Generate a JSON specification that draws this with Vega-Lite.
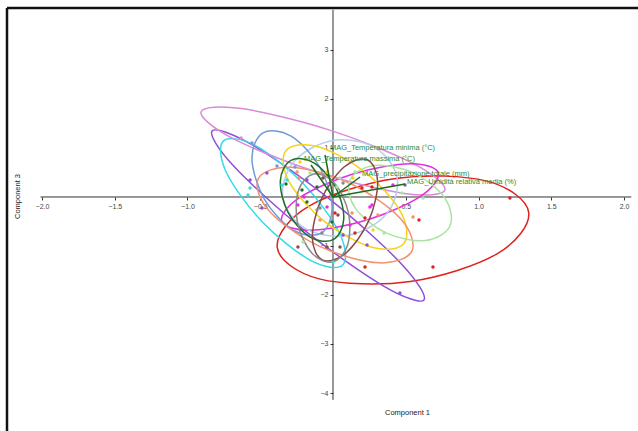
{
  "$schema": "https://vega.github.io/schema/vega-lite/v6.json",
  "width": 631,
  "height": 423,
  "autosize": "none",
  "padding": {"left": 7, "top": 8, "right": 0, "bottom": 0},
  "background": "white",
  "config": {"view": {"stroke": null}, "font": "Liberation Sans"},
  "encoding": {
    "x": {
      "field": "x", "type": "quantitative",
      "scale": {"domain": [-2.2405, 2.0962], "nice": false, "zero": false},
      "axis": {
        "orient": "bottom", "offset": -234, "values": [-2, -1.5, -1, -0.5, 0.5, 1, 1.5, 2],
        "format": ".1f", "domain": false, "grid": false, "tickSize": 3, "tickColor": "#333",
        "labelFontSize": 7, "labelColor": "#444", "labelPadding": 2, "labelOverlap": false, "labelBound": false,
        "title": "Component 1", "titleFontSize": 7.5, "titleFontWeight": "normal", "titleColor": "#222",
        "titleX": 400, "titleY": 215, "titleAlign": "center", "titleBaseline": "middle"
      }
    },
    "y": {
      "field": "y", "type": "quantitative",
      "scale": {"domain": [-4.7755, 3.8571], "nice": false, "zero": false},
      "axis": {
        "orient": "left", "offset": -326, "values": [3, 2, 1, -1, -2, -3, -4],
        "format": "d", "domain": false, "grid": false, "tickSize": 3, "tickColor": "#333",
        "labelFontSize": 7, "labelColor": "#444", "labelPadding": 2, "labelOverlap": false, "labelBound": false,
        "title": "Component 3", "titleFontSize": 7.5, "titleFontWeight": "normal", "titleColor": "#222",
        "titleX": -316, "titleY": 188, "titleAngle": -90, "titleAlign": "center", "titleBaseline": "middle"
      }
    }
  },
  "layer": [
    {
      "data": {"values": [
        {"x": -2.2405, "y": -4.7755, "x2": -2.2405, "y2": 3.8571},
        {"x": -2.2405, "y": 3.8571, "x2": 2.0962, "y2": 3.8571}
      ]},
      "mark": {"type": "rule", "color": "#111", "strokeWidth": 2.5},
      "encoding": {"x2": {"field": "x2"}, "y2": {"field": "y2"}}
    },
    {
      "data": {"values": [
        {"x": -2.01, "y": 0, "x2": 2.05, "y2": 0},
        {"x": 0, "y": 3.82, "x2": 0, "y2": -4.14}
      ]},
      "mark": {"type": "rule", "color": "#333", "strokeWidth": 1},
      "encoding": {"x2": {"field": "x2"}, "y2": {"field": "y2"}}
    },
    {
      "data": {"values": [
        {"g":"red","i":0,"x":1.345,"y":-0.312},{"g":"red","i":1,"x":1.127,"y":-1.161},{"g":"red","i":2,"x":0.531,"y":-1.724},{"g":"red","i":3,"x":-0.095,"y":-1.671},{"g":"red","i":4,"x":-0.383,"y":-1.035},{"g":"red","i":5,"x":-0.165,"y":-0.186},{"g":"red","i":6,"x":0.432,"y":0.378},{"g":"red","i":7,"x":1.057,"y":0.324},
        {"g":"purple","i":0,"x":0.625,"y":-2.102},{"g":"purple","i":1,"x":0.351,"y":-1.822},{"g":"purple","i":2,"x":-0.189,"y":-0.696},{"g":"purple","i":3,"x":-0.678,"y":0.616},{"g":"purple","i":4,"x":-0.831,"y":1.347},{"g":"purple","i":5,"x":-0.557,"y":1.067},{"g":"purple","i":6,"x":-0.017,"y":-0.059},{"g":"purple","i":7,"x":0.472,"y":-1.371},
        {"g":"cyan","i":0,"x":0.067,"y":-1.386},{"g":"cyan","i":1,"x":-0.151,"y":-1.298},{"g":"cyan","i":2,"x":-0.482,"y":-0.52},{"g":"cyan","i":3,"x":-0.731,"y":0.49},{"g":"cyan","i":4,"x":-0.754,"y":1.141},{"g":"cyan","i":5,"x":-0.536,"y":1.053},{"g":"cyan","i":6,"x":-0.205,"y":0.276},{"g":"cyan","i":7,"x":0.044,"y":-0.735},
        {"g":"orchid","i":0,"x":0.769,"y":0.141},{"g":"orchid","i":1,"x":0.491,"y":0.073},{"g":"orchid","i":2,"x":-0.115,"y":0.512},{"g":"orchid","i":3,"x":-0.693,"y":1.202},{"g":"orchid","i":4,"x":-0.907,"y":1.737},{"g":"orchid","i":5,"x":-0.629,"y":1.804},{"g":"orchid","i":6,"x":-0.023,"y":1.365},{"g":"orchid","i":7,"x":0.556,"y":0.676},
        {"g":"magenta","i":0,"x":0.724,"y":0.49},{"g":"magenta","i":1,"x":0.601,"y":0.014},{"g":"magenta","i":2,"x":0.234,"y":-0.469},{"g":"magenta","i":3,"x":-0.162,"y":-0.678},{"g":"magenta","i":4,"x":-0.353,"y":-0.49},{"g":"magenta","i":5,"x":-0.23,"y":-0.014},{"g":"magenta","i":6,"x":0.137,"y":0.469},{"g":"magenta","i":7,"x":0.533,"y":0.678},
        {"g":"lightblue","i":0,"x":0.441,"y":0.39},{"g":"lightblue","i":1,"x":0.366,"y":-0.353},{"g":"lightblue","i":2,"x":0.105,"y":-0.782},{"g":"lightblue","i":3,"x":-0.189,"y":-0.645},{"g":"lightblue","i":4,"x":-0.344,"y":-0.022},{"g":"lightblue","i":5,"x":-0.269,"y":0.72},{"g":"lightblue","i":6,"x":-0.009,"y":1.149},{"g":"lightblue","i":7,"x":0.285,"y":1.012},
        {"g":"steelblue","i":0,"x":-0.082,"y":-0.739},{"g":"steelblue","i":1,"x":-0.276,"y":-0.669},{"g":"steelblue","i":2,"x":-0.472,"y":-0.041},{"g":"steelblue","i":3,"x":-0.557,"y":0.78},{"g":"steelblue","i":4,"x":-0.481,"y":1.31},{"g":"steelblue","i":5,"x":-0.288,"y":1.241},{"g":"steelblue","i":6,"x":-0.091,"y":0.612},{"g":"steelblue","i":7,"x":-0.006,"y":-0.208},
        {"g":"yellow","i":0,"x":0.489,"y":-0.943},{"g":"yellow","i":1,"x":0.274,"y":-1.031},{"g":"yellow","i":2,"x":-0.053,"y":-0.514},{"g":"yellow","i":3,"x":-0.3,"y":0.302},{"g":"yellow","i":4,"x":-0.324,"y":0.943},{"g":"yellow","i":5,"x":-0.109,"y":1.031},{"g":"yellow","i":6,"x":0.218,"y":0.514},{"g":"yellow","i":7,"x":0.465,"y":-0.302},
        {"g":"salmon","i":0,"x":0.543,"y":-1.1},{"g":"salmon","i":1,"x":0.316,"y":-1.343},{"g":"salmon","i":2,"x":-0.088,"y":-1.014},{"g":"salmon","i":3,"x":-0.432,"y":-0.306},{"g":"salmon","i":4,"x":-0.515,"y":0.365},{"g":"salmon","i":5,"x":-0.289,"y":0.608},{"g":"salmon","i":6,"x":0.115,"y":0.28},{"g":"salmon","i":7,"x":0.46,"y":-0.429},
        {"g":"lightgreen","i":0,"x":0.803,"y":-0.596},{"g":"lightgreen","i":1,"x":0.635,"y":-0.888},{"g":"lightgreen","i":2,"x":0.365,"y":-0.733},{"g":"lightgreen","i":3,"x":0.151,"y":-0.218},{"g":"lightgreen","i":4,"x":0.118,"y":0.351},{"g":"lightgreen","i":5,"x":0.286,"y":0.643},{"g":"lightgreen","i":6,"x":0.556,"y":0.488},{"g":"lightgreen","i":7,"x":0.77,"y":-0.027},
        {"g":"darkgreen","i":0,"x":0.001,"y":-0.871},{"g":"darkgreen","i":1,"x":-0.157,"y":-0.818},{"g":"darkgreen","i":2,"x":-0.308,"y":-0.32},{"g":"darkgreen","i":3,"x":-0.362,"y":0.329},{"g":"darkgreen","i":4,"x":-0.289,"y":0.749},{"g":"darkgreen","i":5,"x":-0.131,"y":0.696},{"g":"darkgreen","i":6,"x":0.019,"y":0.198},{"g":"darkgreen","i":7,"x":0.074,"y":-0.451},
        {"g":"brown","i":0,"x":0.236,"y":0.759},{"g":"brown","i":1,"x":0.307,"y":0.306},{"g":"brown","i":2,"x":0.246,"y":-0.482},{"g":"brown","i":3,"x":0.089,"y":-1.143},{"g":"brown","i":4,"x":-0.071,"y":-1.29},{"g":"brown","i":5,"x":-0.142,"y":-0.837},{"g":"brown","i":6,"x":-0.081,"y":-0.049},{"g":"brown","i":7,"x":0.076,"y":0.612},
        {"g":"gray","i":0,"x":-0.004,"y":-1.327},{"g":"gray","i":1,"x":-0.146,"y":-1.141},{"g":"gray","i":2,"x":-0.243,"y":-0.539},{"g":"gray","i":3,"x":-0.238,"y":0.129},{"g":"gray","i":4,"x":-0.133,"y":0.469},{"g":"gray","i":5,"x":0.009,"y":0.284},{"g":"gray","i":6,"x":0.106,"y":-0.318},{"g":"gray","i":7,"x":0.1,"y":-0.986}
      ]},
      "mark": {"type": "line", "interpolate": "cardinal-closed", "strokeWidth": 1.5},
      "encoding": {
        "color": {"field": "g", "type": "nominal", "legend": null,
          "scale": {"domain": ["red","purple","cyan","orchid","magenta","lightblue","steelblue","yellow","salmon","lightgreen","darkgreen","brown","gray"],
                    "range": ["#e0201a","#8f4fd6","#30dce8","#d98ad9","#e030e0","#b5d0ec","#6f9bd8","#f5d31a","#f2926e","#a9e5a0","#1f6e2a","#8c4a45","#8a8a8a"]}},
        "detail": {"field": "g"},
        "order": {"field": "i", "type": "quantitative"}
      }
    },
    {
      "data": {"values": [
        {"g":"orchid","x":-0.632,"y":1.204},{"g":"steelblue","x":-0.557,"y":1.102},{"g":"purple","x":-0.454,"y":0.49},{"g":"purple","x":-0.57,"y":0.347},
        {"g":"cyan","x":-0.57,"y":0.184},{"g":"cyan","x":-0.584,"y":0.041},{"g":"steelblue","x":-0.385,"y":0.633},{"g":"cyan","x":-0.316,"y":0.347},
        {"g":"darkgreen","x":-0.323,"y":0.265},{"g":"steelblue","x":-0.261,"y":0.612},{"g":"salmon","x":-0.247,"y":0.51},{"g":"salmon","x":-0.234,"y":0.388},
        {"g":"yellow","x":-0.227,"y":0.714},{"g":"darkgreen","x":-0.213,"y":0.143},{"g":"purple","x":-0.179,"y":0.347},{"g":"magenta","x":-0.199,"y":0.0},
        {"g":"lightgreen","x":-0.158,"y":0.49},{"g":"darkgreen","x":-0.11,"y":0.204},{"g":"brown","x":-0.069,"y":0.388},{"g":"yellow","x":-0.041,"y":0.51},
        {"g":"gray","x":-0.089,"y":-0.224},{"g":"lightgreen","x":0.027,"y":0.204},{"g":"lightblue","x":0.048,"y":0.388},{"g":"gray","x":0.069,"y":0.286},
        {"g":"yellow","x":0.137,"y":0.388},{"g":"lightgreen","x":0.151,"y":0.51},{"g":"red","x":0.268,"y":0.204},{"g":"red","x":0.199,"y":0.184},
        {"g":"magenta","x":0.412,"y":0.245},{"g":"purple","x":0.495,"y":0.245},{"g":"lightgreen","x":0.474,"y":0.082},{"g":"lightgreen","x":0.619,"y":-0.02},
        {"g":"red","x":1.216,"y":-0.02},{"g":"magenta","x":-0.241,"y":-0.163},{"g":"darkgreen","x":-0.179,"y":-0.102},{"g":"gray","x":-0.11,"y":-0.265},
        {"g":"salmon","x":-0.089,"y":-0.469},{"g":"magenta","x":-0.041,"y":-0.204},{"g":"darkgreen","x":-0.007,"y":-0.51},{"g":"red","x":0.014,"y":-0.327},
        {"g":"brown","x":0.034,"y":-0.367},{"g":"salmon","x":0.131,"y":-0.327},{"g":"red","x":0.22,"y":-0.429},{"g":"magenta","x":0.254,"y":-0.204},
        {"g":"magenta","x":0.268,"y":-0.163},{"g":"salmon","x":0.309,"y":-0.367},{"g":"magenta","x":0.117,"y":-0.571},{"g":"purple","x":0.069,"y":-0.776},
        {"g":"red","x":0.151,"y":-0.735},{"g":"yellow","x":0.275,"y":-0.673},{"g":"purple","x":0.234,"y":-0.98},{"g":"brown","x":0.048,"y":-1.02},
        {"g":"brown","x":-0.041,"y":-1.02},{"g":"gray","x":-0.076,"y":-0.735},{"g":"brown","x":-0.241,"y":-1.02},{"g":"lightgreen","x":-0.206,"y":-0.918},
        {"g":"cyan","x":0.0,"y":-1.327},{"g":"red","x":0.22,"y":-1.429},{"g":"red","x":0.687,"y":-1.429},{"g":"purple","x":0.46,"y":-1.959},
        {"g":"salmon","x":0.55,"y":-0.408},{"g":"red","x":0.591,"y":-0.469},{"g":"lightgreen","x":0.351,"y":-0.735},{"g":"cyan","x":-0.351,"y":0.245},
        {"g":"purple","x":-0.488,"y":-0.224}
      ]},
      "mark": {"type": "circle", "size": 12, "opacity": 1},
      "encoding": {
        "color": {"field": "g", "type": "nominal", "legend": null}
      }
    },
    {
      "data": {"values": [
        {"name": "MAG_Temperatura minima (°C)", "x": -0.055, "y": 0.857, "ox": 0, "oy": 0},
        {"name": "MAG_Temperatura massima (°C)", "x": -0.151, "y": 0.653, "ox": 0, "oy": 0},
        {"name": "MAG_precipitazione totale (mm)", "x": 0.186, "y": 0.408, "ox": 0, "oy": 0},
        {"name": "MAG_Umidità relativa media (%)", "x": 0.495, "y": 0.265, "ox": 0, "oy": 0}
      ]},
      "mark": {"type": "rule", "color": "#1d6b1d", "strokeWidth": 1.5},
      "encoding": {"x2": {"field": "ox"}, "y2": {"field": "oy"}}
    },
    {
      "data": {"values": [
        {"name": "MAG_Temperatura minima (°C)", "x": -0.021, "y": 1.0},
        {"name": "MAG_Temperatura massima (°C)", "x": -0.199, "y": 0.776},
        {"name": "MAG_precipitazione totale (mm)", "x": 0.199, "y": 0.469},
        {"name": "MAG_Umidità relativa media (%)", "x": 0.509, "y": 0.306}
      ]},
      "mark": {"type": "text", "align": "left", "baseline": "middle", "fontSize": 7.5, "color": "#2e8b2e"},
      "encoding": {"text": {"field": "name"}}
    }
  ]
}
